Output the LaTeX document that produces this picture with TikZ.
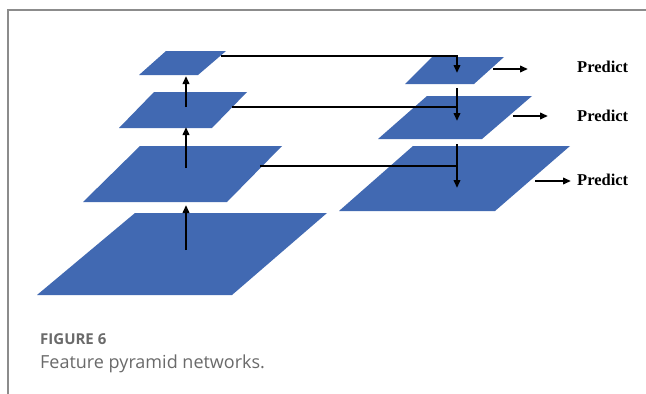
\documentclass[tikz,border=0pt]{standalone}
\usepackage{fontspec}
\setmainfont{Liberation Serif}
\newfontfamily\capfont{Open Sans}
\usetikzlibrary{arrows.meta}
\definecolor{fpnblue}{HTML}{4169B2}
\definecolor{framegray}{HTML}{8C8C8C}
\definecolor{capgray}{HTML}{6A6A6A}
\tikzset{
  layer/.style={fill=fpnblue, draw=none},
  conn/.style={line width=2.1pt, black},
  arr/.style={conn, -{Triangle[length=8pt,width=6.5pt]}},
  predtext/.style={anchor=west, inner sep=0pt, font=\fontsize{16.5}{18}\selectfont\bfseries},
}
\begin{document}
\begin{tikzpicture}[x=1pt,y=-1pt]
\useasboundingbox (0,0) rectangle (646,394);
\fill[white] (0,0) rectangle (646,394);
% frame
\draw[framegray, line width=2pt] (8,394) -- (8,10) -- (646,10);

% left pyramid layers
\path[layer] (166,51) -- (226,51) -- (198,75) -- (139,75) -- cycle;
\path[layer] (154,92) -- (247,92) -- (212,128) -- (119,128) -- cycle;
\path[layer] (140,146) -- (282,146) -- (227,202) -- (83,202) -- cycle;
\path[layer] (135,213) -- (327,213) -- (232,295) -- (37,295) -- cycle;
% right pyramid layers
\path[layer] (432,57) -- (504,57) -- (474,84) -- (405,84) -- cycle;
\path[layer] (427,96) -- (532,96) -- (482,139) -- (378,139) -- cycle;
\path[layer] (413,146) -- (570,146) -- (495,211) -- (339,211) -- cycle;

% named points
\coordinate (u1s) at (186,250); \coordinate (u1e) at (186,205);
\coordinate (u2s) at (186,168); \coordinate (u2e) at (186,127);
\coordinate (u3s) at (186,107); \coordinate (u3e) at (186,76);
\coordinate (h1s) at (221,56);  \coordinate (h1c) at (457,56); \coordinate (d1e) at (457,73);
\coordinate (h2s) at (232,107); \coordinate (h2e) at (457,107);
\coordinate (h3s) at (260,166); \coordinate (h3e) at (457,166);
\coordinate (d2s) at (457,88);  \coordinate (d2e) at (457,121);
\coordinate (d3s) at (457,144); \coordinate (d3e) at (457,188);
\coordinate (p1s) at (493,69);  \coordinate (p1e) at (528,69);
\coordinate (p2s) at (513,116); \coordinate (p2e) at (548,116);
\coordinate (p3s) at (535,181); \coordinate (p3e) at (571,181);

% bottom-up arrows
\draw[arr] (u1s) -- (u1e);
\draw[arr] (u2s) -- (u2e);
\draw[arr] (u3s) -- (u3e);
% lateral connections
\draw[arr] (h1s) -- (h1c) -- (d1e);
\draw[conn] (h2s) -- (h2e);
\draw[conn] (h3s) -- (h3e);
% top-down arrows
\draw[arr] (d2s) -- (d2e);
\draw[arr] (d3s) -- (d3e);
% predict arrows
\draw[arr] (p1s) -- (p1e);
\draw[arr] (p2s) -- (p2e);
\draw[arr] (p3s) -- (p3e);

\node[predtext] (t1) at (577,67) {Predict};
\node[predtext] (t2) at (577,116) {Predict};
\node[predtext] (t3) at (577,180) {Predict};

% caption
\node[anchor=base west, inner sep=0pt, text=capgray, font=\capfont\fontsize{15}{18}\selectfont\bfseries] (c1) at (40,344) {FIGURE 6};
\node[anchor=base west, inner sep=0pt, text=capgray, font=\capfont\fontsize{18}{21}\selectfont] (c2) at (40,368) {Feature pyramid networks.};
\end{tikzpicture}
\end{document}
